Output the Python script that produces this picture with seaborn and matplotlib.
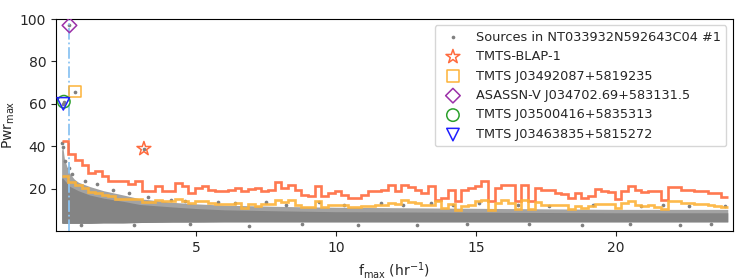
import numpy as np
import matplotlib
matplotlib.use("Agg")
import matplotlib.pyplot as plt
import seaborn as sns

# step curves (100 frequency bins between 0.2 and 24 hr^-1)
bin_lo, bin_hi, n_bins = 0.2, 24.0, 100
thresh_high = [42.3, 36.5, 33.6, 31.0, 27.4, 28.1, 25.8, 23.8, 23.8, 23.6,
               22.2, 23.4, 19.0, 19.0, 21.1, 19.1, 19.1, 22.7, 21.1, 18.0,
               20.3, 21.4, 19.5, 18.7, 18.7, 19.5, 20.3, 18.7, 20.0, 20.3,
               18.7, 19.5, 23.0, 20.3, 21.9, 19.5, 17.2, 16.4, 21.1, 16.4,
               18.0, 18.7, 17.2, 15.6, 15.6, 17.2, 18.7, 18.7, 19.5, 21.9,
               18.7, 21.9, 20.6, 19.5, 18.0, 21.1, 14.8, 15.6, 19.5, 14.0,
               19.5, 20.3, 21.1, 23.4, 14.0, 20.3, 21.9, 21.9, 14.0, 21.9,
               14.0, 20.3, 19.5, 19.5, 18.0, 17.5, 15.6, 18.0, 15.6, 16.4,
               19.8, 18.7, 18.2, 15.3, 19.1, 21.1, 19.3, 18.2, 19.1, 18.7,
               14.8, 20.6, 20.6, 19.5, 19.5, 18.7, 18.7, 18.0, 17.7, 16.0]
thresh_low = [25.8, 23.0, 21.9, 20.3, 18.2, 18.0, 17.2, 16.4, 15.3, 15.3,
              14.9, 14.9, 13.7, 13.7, 14.8, 14.0, 14.0, 15.2, 14.0, 13.3,
              14.3, 14.3, 13.3, 12.8, 12.8, 12.8, 13.3, 10.9, 12.8, 12.0,
              12.9, 12.9, 14.8, 13.6, 14.8, 12.5, 11.4, 11.4, 14.3, 11.4,
              12.2, 12.2, 12.5, 11.4, 11.4, 12.0, 12.0, 12.5, 12.5, 13.3,
              12.9, 14.5, 13.6, 13.3, 12.5, 12.5, 14.0, 10.9, 12.8, 10.1,
              11.7, 12.5, 14.0, 14.8, 10.1, 13.3, 14.8, 13.3, 10.4, 14.8,
              10.4, 13.6, 12.5, 12.5, 12.5, 12.2, 10.4, 12.0, 10.9, 12.0,
              12.9, 12.9, 12.9, 10.9, 13.3, 14.0, 12.5, 12.0, 12.5, 11.4,
              10.4, 14.0, 14.0, 13.3, 13.3, 12.8, 12.8, 12.2, 11.7, 11.3]

# envelope of the dense source cloud
cloud_x = [0.2, 0.24, 0.3, 0.4, 0.5, 0.65, 0.8, 1.2, 1.7, 2.4, 3.0, 4.2, 5.0,
           6.0, 8.0, 10.0, 12.0, 14.0, 16.0, 18.0, 20.0, 22.0, 24.0]
cloud_top = [38.0, 40.0, 34.0, 30.0, 27.0, 24.5, 23.0, 21.0, 19.0, 17.0, 15.2,
             13.5, 12.8, 12.2, 11.6, 11.2, 11.0, 10.8, 10.6, 10.4, 10.2, 10.2,
             10.2]
cloud_core = [25.0, 25.0, 24.0, 22.5, 21.0, 20.0, 19.0, 17.0, 15.5, 14.0, 12.5,
              11.3, 10.6, 10.0, 9.5, 9.1, 9.0, 8.9, 8.8, 8.7, 8.6, 8.6, 8.6]
cloud_bot = [3.8, 3.6, 3.6, 3.6, 3.6, 3.6, 3.6, 3.6, 3.8, 3.8, 4.0, 4.2, 4.2,
             4.3, 4.3, 4.3, 4.3, 4.3, 4.3, 4.3, 4.3, 4.3, 4.3]

# scattered sources around the cloud (incl. the marked ones)
src_x = [0.22, 0.26, 0.33, 0.45, 0.58, 1.05, 1.45, 2.05, 2.60, 3.30, 4.10,
         4.60, 5.80, 6.40, 7.50, 8.20, 9.40, 10.3, 11.6, 12.4, 13.4, 14.2,
         15.1, 16.5, 17.6, 19.2, 20.9, 21.7, 22.6, 23.9,
         0.9, 2.8, 4.8, 6.9, 8.8, 10.8, 12.9, 14.7, 16.9, 18.8, 20.5, 22.3,
         23.4,
         0.48, 0.67, 0.28, 0.26, 3.14]
src_y = [41.5, 39.5, 33.0, 29.5, 27.0, 23.5, 22.0, 19.5, 18.0, 16.2, 14.8,
         14.0, 13.5, 13.0, 13.5, 12.5, 13.5, 12.4, 13.0, 12.3, 13.0, 12.2,
         13.0, 12.5, 11.9, 12.5, 12.0, 12.5, 11.7, 12.0,
         2.8, 3.0, 3.2, 2.5, 3.4, 3.0, 2.6, 3.3, 3.1, 2.7, 3.4, 2.9,
         3.2,
         97.0, 65.8, 61.0, 60.0, 38.8]

# highlighted objects
obj_names = ["TMTS-BLAP-1", "TMTS J03492087+5819235", "ASASSN-V J034702.69+583131.5",
             "TMTS J03500416+5835313", "TMTS J03463835+5815272"]
obj_f = [3.14, 0.67, 0.48, 0.28, 0.26]
obj_pwr = [38.8, 65.8, 97.0, 61.0, 60.0]
obj_marker = ["*", "s", "D", "o", "v"]
obj_size = [110, 70, 55, 80, 80]
obj_color = ["#ff6a3d", "#fdb338", "#9b30a8", "#2ca02c", "#1f1fff"]

blap_f = 0.48

sns.set_style("ticks")
plt.rcParams["font.family"] = ["DejaVu Sans"]

fig, ax = plt.subplots(figsize=(7.47, 2.8), dpi=100)
fig.subplots_adjust(left=0.075, right=0.981, top=0.932, bottom=0.175)

# cloud of sources
ax.fill_between(cloud_x, cloud_bot, cloud_top, color="#a3a3a3", lw=0, zorder=1)
ax.fill_between(cloud_x, cloud_bot, cloud_core, color="#848484", lw=0, zorder=1)
sns.scatterplot(x=src_x, y=src_y, color="gray", s=7, linewidth=0, ax=ax,
                zorder=2, label="Sources in NT033932N592643C04 #1")

edges = np.linspace(bin_lo, bin_hi, n_bins + 1)
ax.stairs(thresh_high, edges, color="#ff6a3d", lw=1.9, alpha=0.9, zorder=3, baseline=None)
ax.stairs(thresh_low, edges, color="#fdb338", lw=1.9, alpha=0.9, zorder=3, baseline=None)

ax.axvline(blap_f, color="#8cc4f2", ls="-.", lw=1.3, zorder=2)

for name, f, p, m, s, c in zip(obj_names, obj_f, obj_pwr, obj_marker, obj_size, obj_color):
    ax.scatter([f], [p], marker=m, s=s, facecolors="none", edgecolors=c,
               linewidths=1.1, zorder=4, label=name)

ax.set_xlim(0, 24.18)
ax.set_ylim(0, 100)
ax.set_xticks([5, 10, 15, 20])
ax.set_yticks([20, 40, 60, 80, 100])
ax.set_xlabel(r"f$_{\rm max}$ (hr$^{-1}$)")
ax.set_ylabel(r"Pwr$_{\rm max}$")
ax.yaxis.set_label_coords(-0.058, 0.5)
for sp in ax.spines.values():
    sp.set_visible(True)
    sp.set_color("black")

ax.legend(loc="upper right", fontsize=9.3, framealpha=0.8)

fig.savefig("out.png", dpi=100)
